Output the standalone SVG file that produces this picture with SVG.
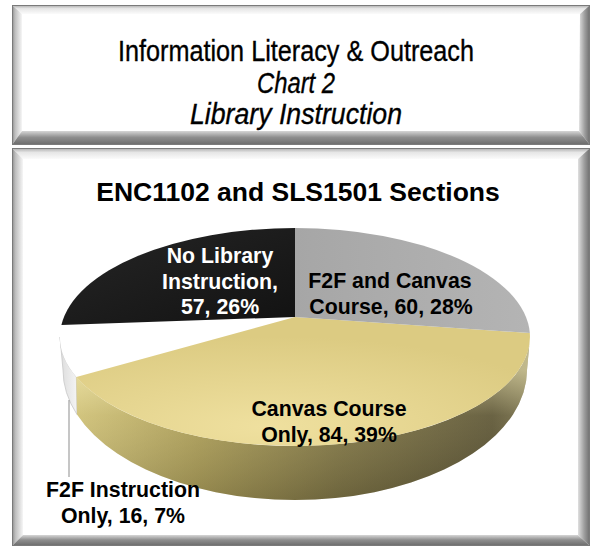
<svg xmlns="http://www.w3.org/2000/svg" width="592" height="546" viewBox="0 0 592 546">
<defs>
<style>
.t{font-family:"Liberation Sans Narrow","Arial Narrow","Liberation Sans",Arial,sans-serif;font-size:30px;fill:#000;stroke:#000;stroke-width:0.35px;text-anchor:middle}
.ti{font-style:italic}
.h{font-family:"Liberation Sans",Arial,sans-serif;font-weight:bold;font-size:26.5px;fill:#000;text-anchor:middle}
.l{font-family:"Liberation Sans",Arial,sans-serif;font-weight:bold;font-size:21.3px;fill:#000;text-anchor:middle}
.lw{fill:#fff}
</style>
<linearGradient id="gTop" x1="0" y1="0" x2="0" y2="1"><stop offset="0" stop-color="#a8a8a8"/><stop offset="0.4" stop-color="#e6e6e6"/><stop offset="1" stop-color="#fbfbfb"/></linearGradient>
<linearGradient id="gLeft" x1="0" y1="0" x2="1" y2="0"><stop offset="0" stop-color="#8a8a8a"/><stop offset="0.3" stop-color="#bdbdbd"/><stop offset="1" stop-color="#f6f6f6"/></linearGradient>
<linearGradient id="gRight" x1="0" y1="0" x2="1" y2="0"><stop offset="0" stop-color="#e0e0e0"/><stop offset="0.5" stop-color="#a0a0a0"/><stop offset="1" stop-color="#6c6c6c"/></linearGradient>
<linearGradient id="gBot" x1="0" y1="0" x2="0" y2="1"><stop offset="0" stop-color="#d6d6d6"/><stop offset="0.45" stop-color="#8e8e8e"/><stop offset="1" stop-color="#6a6a6a"/></linearGradient>
<radialGradient id="gYellow" cx="0.42" cy="0.85" r="0.7"><stop offset="0" stop-color="#efe09f"/><stop offset="1" stop-color="#dccb82"/></radialGradient>
<linearGradient id="gGrey" x1="0" y1="0" x2="1" y2="0"><stop offset="0" stop-color="#a6a6a6"/><stop offset="1" stop-color="#b4b4b4"/></linearGradient>
<linearGradient id="gBlack" x1="0" y1="0" x2="1" y2="1"><stop offset="0" stop-color="#262626"/><stop offset="1" stop-color="#121212"/></linearGradient>
<linearGradient id="gSideY" x1="60" y1="0" x2="530" y2="0" gradientUnits="userSpaceOnUse"><stop offset="0" stop-color="#d2c47c"/><stop offset="0.3" stop-color="#a99b58"/><stop offset="0.6" stop-color="#7e7446"/><stop offset="0.92" stop-color="#5a5336"/><stop offset="1" stop-color="#77704e"/></linearGradient>
<linearGradient id="gSideHi" x1="0" y1="370" x2="0" y2="500" gradientUnits="userSpaceOnUse"><stop offset="0" stop-color="#fff6c0" stop-opacity="0.55"/><stop offset="0.35" stop-color="#fff6c0" stop-opacity="0.1"/><stop offset="1" stop-color="#000" stop-opacity="0.15"/></linearGradient>
<linearGradient id="gSideW" x1="0" y1="0" x2="1" y2="0"><stop offset="0" stop-color="#dcdcdc"/><stop offset="1" stop-color="#f4f4f4"/></linearGradient>
</defs>

<g id="title-box">
<rect x="12" y="5" width="578" height="140" fill="#ffffff"/>
<polygon points="12,5 590,5 580,14 22,14" fill="url(#gTop)"/>
<polygon points="12,5 22,14 22,131 12,145" fill="url(#gLeft)"/>
<polygon points="590,5 590,145 579,131 580,14" fill="url(#gRight)"/>
<polygon points="12,145 590,145 579,131 22,131" fill="url(#gBot)"/>
<rect x="12.5" y="5.5" width="577" height="139" fill="none" stroke="#7a7a7a" stroke-width="1"/>
<text class="t" x="296" y="61" textLength="356" lengthAdjust="spacingAndGlyphs">Information Literacy &amp; Outreach</text>
<text class="t ti" x="296" y="93" textLength="78" lengthAdjust="spacingAndGlyphs">Chart 2</text>
<text class="t ti" x="296" y="124" textLength="212" lengthAdjust="spacingAndGlyphs">Library Instruction</text>
</g>

<g id="chart-box">
<rect x="12" y="148" width="578" height="398" fill="#ffffff"/>
<polygon points="12,148 590,148 578,159 23,159" fill="url(#gTop)"/>
<polygon points="12,148 23,159 23,535 12,546" fill="url(#gLeft)"/>
<polygon points="590,148 590,546 578,535 578,159" fill="url(#gRight)"/>
<polygon points="12,546 590,546 578,535 23,535" fill="url(#gBot)"/>
<rect x="12.5" y="148.5" width="577" height="397" fill="none" stroke="#7a7a7a" stroke-width="1"/>
<text class="h" x="298" y="201">ENC1102 and SLS1501 Sections</text>
</g>

<g id="slice-f2f-only">
<path d="M60,337 L63,370 A232,130 0 0 0 77,414.5 L76.4,377 A235,109 0 0 1 60,337 Z" fill="url(#gSideW)" stroke="#c8c8c8" stroke-width="0.8"/>
<path d="M295,317 L76.4,377 A235,109 0 0 1 61.4,325 Z" fill="#ffffff"/>
</g>

<g id="slice-canvas-only">
<path d="M76.4,377 L77,414.5 A232,130 0 0 0 527,370 L530,337 A235,109 0 0 1 76.4,377 Z" fill="url(#gSideY)"/>
<path d="M76.4,377 L77,414.5 A232,130 0 0 0 527,370 L530,337 A235,109 0 0 1 76.4,377 Z" fill="url(#gSideHi)"/>
<path d="M295,317 L529.8,333 A235,109 0 0 1 76.4,377 Z" fill="url(#gYellow)"/>
</g>

<g id="slice-f2f-canvas">
<path d="M295,317 L295,228 A235,109 0 0 1 529.8,333 Z" fill="url(#gGrey)"/>
</g>

<g id="slice-no-library">
<path d="M295,317 L61.4,325 A235,109 0 0 1 295,228 Z" fill="url(#gBlack)"/>
</g>

<g id="connectors">
<line x1="69" y1="400" x2="69" y2="477" stroke="#a0a0a0" stroke-width="1.2"/>
</g>

<g id="labels">
<text class="l lw" x="220" y="263">No Library</text>
<text class="l lw" x="220" y="289">Instruction,</text>
<text class="l lw" x="220" y="314">57, 26%</text>
<text class="l" x="390" y="288">F2F and Canvas</text>
<text class="l" x="391" y="314">Course, 60, 28%</text>
<text class="l" x="329" y="416">Canvas Course</text>
<text class="l" x="329" y="442">Only, 84, 39%</text>
<text class="l" x="123" y="497">F2F Instruction</text>
<text class="l" x="123" y="523">Only, 16, 7%</text>
</g>
</svg>
